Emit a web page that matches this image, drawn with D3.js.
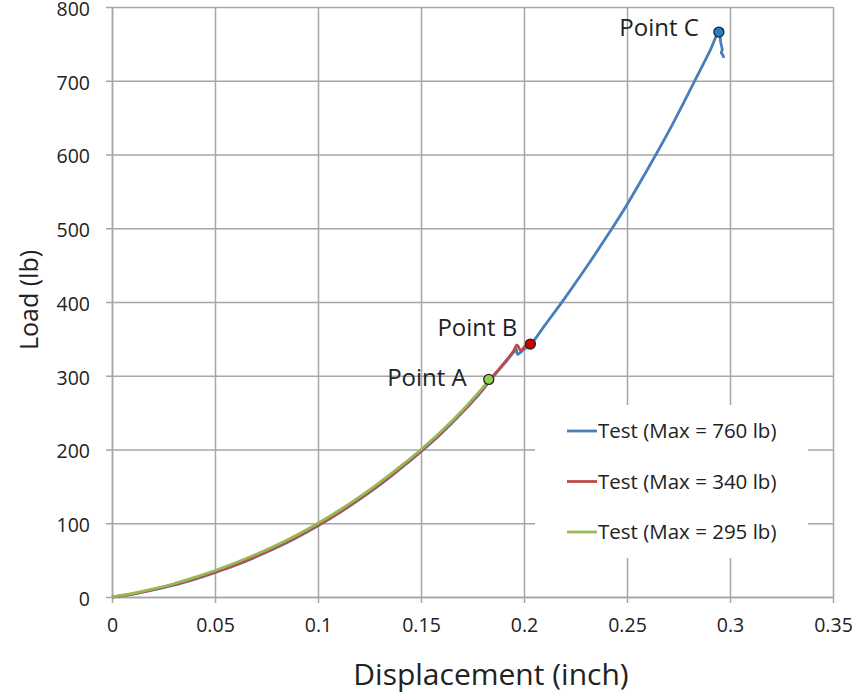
<!DOCTYPE html>
<html>
<head>
<meta charset="utf-8">
<script src="https://cdn.jsdelivr.net/npm/d3@7"></script>
<style>
    body { margin: 0; background: #fff; }
    text { font-family: "Open Sans", sans-serif; fill: #222; }
</style>
</head>
<body>
<div id="chart"></div>
<script>
// displacement (inch) / load (lb)
const dispGreen = [0, 0.01, 0.02, 0.03, 0.04, 0.05, 0.06, 0.07, 0.08, 0.09, 0.10, 0.11, 0.12, 0.13, 0.14, 0.15, 0.16, 0.17, 0.18, 0.183];
const loadGreen = [0, 5, 11, 18, 26.5, 36, 46.5, 58, 70.5, 84.5, 100, 117, 135.5, 155.5, 177, 200, 225, 253, 284, 294];

const dispRed = [0, 0.01, 0.02, 0.03, 0.04, 0.05, 0.06, 0.07, 0.08, 0.09, 0.10, 0.11, 0.12, 0.13, 0.14, 0.15, 0.16, 0.17, 0.18, 0.183, 0.19, 0.195, 0.1966, 0.1985, 0.2005, 0.2031];
const loadRed = [0, 4, 10, 17, 25, 34, 44, 55.5, 68, 82, 97.5, 114.5, 133, 153, 175, 198, 223, 251, 282, 293, 316, 334, 342, 334, 340, 342];

const dispBlue = [0, 0.01, 0.02, 0.03, 0.04, 0.05, 0.06, 0.07, 0.08, 0.09, 0.10, 0.11, 0.12, 0.13, 0.14, 0.15, 0.16, 0.17, 0.18, 0.183, 0.19, 0.195, 0.1962, 0.1968, 0.198, 0.2, 0.2031, 0.21, 0.22, 0.23, 0.24, 0.25, 0.26, 0.27, 0.28, 0.29, 0.2946, 0.2955, 0.2962, 0.2958, 0.2965, 0.297];
const loadBlue = [0, 4, 9.5, 16, 24, 33, 43, 54.5, 67, 81, 96.5, 113.5, 132, 152, 174, 197, 222, 250, 281, 292, 315, 332, 336, 329, 331, 336, 342, 368, 406, 446, 488, 532, 580, 630, 684, 739, 766, 752, 742, 738, 735, 731];

const seriesNames = ['Test (Max = 760 lb)', 'Test (Max = 340 lb)', 'Test (Max = 295 lb)'];
const seriesColors = ['#4a7ebb', '#be4b48', '#98b954'];

const pointNames = ['Point A', 'Point B', 'Point C'];
const pointDisp = [0.1829, 0.2031, 0.2946];
const pointLoad = [295, 343, 766];
const pointFill = ['#92d050', '#d00000', '#1f7fd0'];

const xTicks = [0, 0.05, 0.1, 0.15, 0.2, 0.25, 0.3, 0.35];
const yTicks = [0, 100, 200, 300, 400, 500, 600, 700, 800];

let width = 855;
let height = 700;
let margin = { top: 7, right: 22, bottom: 103, left: 112 };

let x = d3.scaleLinear()
    .domain([0, 0.35])
    .range([margin.left, width - margin.right]);

let y = d3.scaleLinear()
    .domain([0, 800])
    .range([height - margin.bottom, margin.top]);

const svg = d3.select('#chart')
    .append('svg')
    .attr('width', width)
    .attr('height', height);

const gridColor = '#a6a6a6';

// gridlines
svg.append('g')
    .attr('transform', `translate(0,${height - margin.bottom})`)
    .call(d3.axisBottom(x).tickValues(xTicks).tickSize(-(height - margin.bottom - margin.top)).tickSizeOuter(0).tickFormat(''))
    .call(g => g.select('.domain').remove())
    .call(g => g.selectAll('line').attr('stroke', gridColor).attr('stroke-width', 1.5));

svg.append('g')
    .attr('transform', `translate(${margin.left},0)`)
    .call(d3.axisLeft(y).tickValues(yTicks).tickSize(-(width - margin.left - margin.right)).tickSizeOuter(0).tickFormat(''))
    .call(g => g.select('.domain').remove())
    .call(g => g.selectAll('line').attr('stroke', gridColor).attr('stroke-width', 1.5));

// axes with labels and small outside ticks
svg.append('g')
    .attr('transform', `translate(0,${height - margin.bottom})`)
    .call(d3.axisBottom(x).tickValues(xTicks).tickSize(6).tickSizeOuter(0).tickPadding(15).tickFormat(d => d3.format('')(d)))
    .call(g => g.selectAll('line, .domain').attr('stroke', gridColor).attr('stroke-width', 1.5))
    .call(g => g.selectAll('text').attr('font-size', 19.5).attr('font-family', 'Open Sans').attr('fill', '#222'));

svg.append('g')
    .attr('transform', `translate(${margin.left},0)`)
    .call(d3.axisLeft(y).tickValues(yTicks).tickSize(6).tickSizeOuter(0).tickPadding(16))
    .call(g => g.selectAll('line, .domain').attr('stroke', gridColor).attr('stroke-width', 1.5))
    .call(g => g.selectAll('text').attr('font-size', 19.5).attr('font-family', 'Open Sans').attr('fill', '#222').attr('dy', '0.43em'));

// legend background hides the grid
svg.append('rect')
    .attr('x', 535).attr('y', 405)
    .attr('width', 273).attr('height', 153)
    .attr('fill', '#fff');

const lineFree = d3.line()
    .x(d => x(d[0]))
    .y(d => y(d[1]))
    .curve(d3.curveCatmullRom.alpha(0.5));

let series = [
    d3.zip(dispBlue, loadBlue),
    d3.zip(dispRed, loadRed),
    d3.zip(dispGreen, loadGreen)
];

series.forEach((pts, i) => {
    svg.append('path')
        .datum(pts)
        .attr('fill', 'none')
        .attr('stroke', seriesColors[i])
        .attr('stroke-width', 2.8)
        .attr('stroke-linejoin', 'round')
        .attr('d', lineFree);
});

// marked points
svg.append('g')
    .selectAll('circle')
    .data(pointNames)
    .join('circle')
    .attr('cx', (d, i) => x(pointDisp[i]))
    .attr('cy', (d, i) => y(pointLoad[i]))
    .attr('r', 5)
    .attr('fill', (d, i) => pointFill[i])
    .attr('stroke', '#222')
    .attr('stroke-width', 1.3);

const labelDx = [-22, -13, -20];
const labelDy = [-2, -16, -4];
svg.append('g')
    .selectAll('text')
    .data(pointNames)
    .join('text')
    .attr('x', (d, i) => x(pointDisp[i]) + labelDx[i])
    .attr('y', (d, i) => y(pointLoad[i]) + labelDy[i])
    .attr('dy', '0.35em')
    .attr('text-anchor', 'end')
    .attr('font-size', 24)
    .text(d => d);

// legend
const legend = svg.append('g');
seriesNames.forEach((name, i) => {
    let ly = 431 + i * 50.5;
    legend.append('line')
        .attr('x1', 567).attr('x2', 597)
        .attr('y1', ly).attr('y2', ly)
        .attr('stroke', seriesColors[i])
        .attr('stroke-width', 2.8);
    legend.append('text')
        .attr('x', 598).attr('y', ly)
        .attr('dy', '0.35em')
        .attr('font-size', 20.5)
        .text(name);
});

// axis titles
svg.append('text')
    .attr('x', 491).attr('y', 685)
    .attr('text-anchor', 'middle')
    .attr('font-size', 30)
    .text('Displacement (inch)');

svg.append('text')
    .attr('transform', 'translate(38,300) rotate(-90)')
    .attr('text-anchor', 'middle')
    .attr('font-size', 25)
    .text('Load (lb)');
</script>
</body>
</html>
